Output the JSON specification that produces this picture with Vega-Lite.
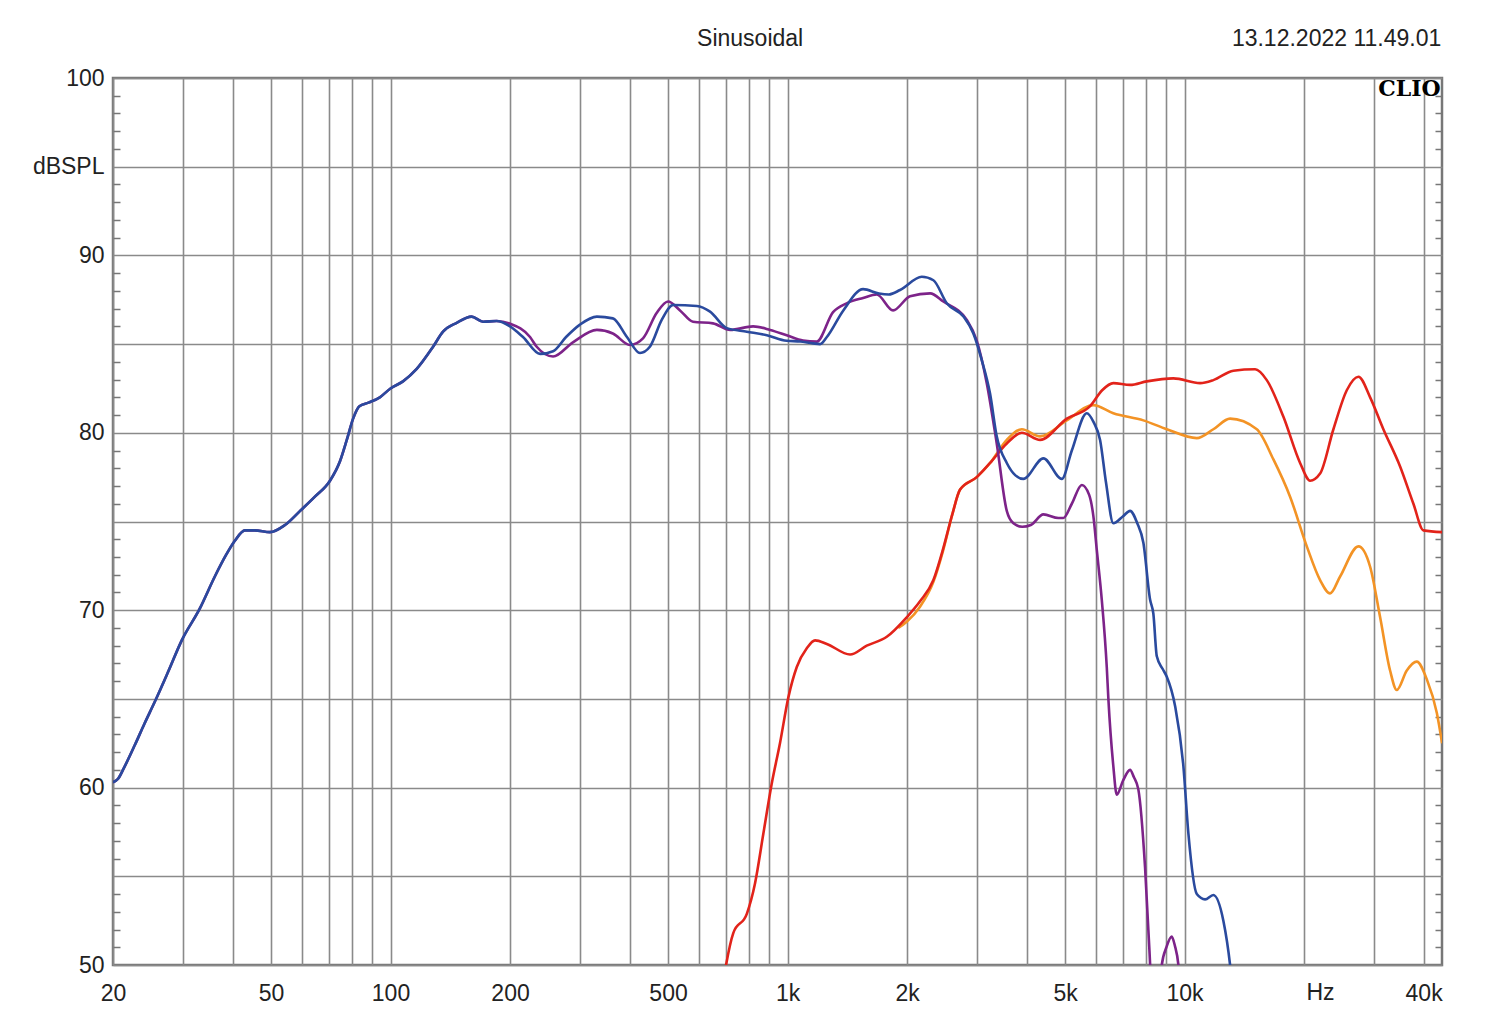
{
  "$schema": "https://vega.github.io/schema/vega-lite/v6.json",
  "autosize": {"type": "none"},
  "padding": {"left": 113, "top": 78, "right": 58, "bottom": 63},
  "width": 1329,
  "height": 887,
  "background": "white",
  "config": {
    "view": {"stroke": "#777777", "strokeWidth": 2.5},
    "font": "Liberation Sans"
  },
  "resolve": {"axis": {"y": "independent", "x": "independent"}},
  "layer": [
    {
      "mark": {"type": "rule", "strokeOpacity": 0},
      "encoding": {
        "x": {
          "datum": 1000,
          "type": "quantitative",
          "scale": {"type": "log", "domain": [20, 44500], "nice": false},
          "axis": {
            "orient": "bottom",
            "title": null,
            "values": [20, 30, 40, 50, 60, 70, 80, 90, 100, 200, 300, 400, 500, 600, 700, 800, 900, 1000, 2000, 3000, 4000, 5000, 6000, 7000, 8000, 9000, 10000, 20000, 30000, 40000],
            "grid": true,
            "gridColor": "#8a8a8a",
            "gridWidth": 1.6,
            "ticks": false,
            "tickSize": 0,
            "domain": false,
            "labelExpr": "datum.value==20?'20':datum.value==50?'50':datum.value==100?'100':datum.value==200?'200':datum.value==500?'500':datum.value==1000?'1k':datum.value==2000?'2k':datum.value==5000?'5k':datum.value==10000?'10k':datum.value==40000?'40k':''",
            "labelFont": "Liberation Sans",
            "labelFontSize": 23,
            "labelColor": "#222222",
            "labelPadding": 17,
            "labelFlush": false,
            "labelOverlap": false,
            "labelBound": false
          }
        }
      }
    },
    {
      "data": {
        "values": [
          {"series": "orange", "f": 1900, "db": 69.0},
          {"series": "orange", "f": 1996, "db": 69.35},
          {"series": "orange", "f": 2156, "db": 70.2},
          {"series": "orange", "f": 2330, "db": 71.6},
          {"series": "orange", "f": 2468, "db": 73.4},
          {"series": "orange", "f": 2600, "db": 75.4},
          {"series": "orange", "f": 2720, "db": 76.8},
          {"series": "orange", "f": 2996, "db": 77.5},
          {"series": "orange", "f": 3237, "db": 78.3},
          {"series": "orange", "f": 3566, "db": 79.6},
          {"series": "orange", "f": 3891, "db": 80.2},
          {"series": "orange", "f": 4326, "db": 79.8},
          {"series": "orange", "f": 5050, "db": 80.7},
          {"series": "orange", "f": 5892, "db": 81.56},
          {"series": "orange", "f": 6616, "db": 81.1},
          {"series": "orange", "f": 7874, "db": 80.7},
          {"series": "orange", "f": 9020, "db": 80.2},
          {"series": "orange", "f": 10734, "db": 79.7},
          {"series": "orange", "f": 11816, "db": 80.2},
          {"series": "orange", "f": 13020, "db": 80.8},
          {"series": "orange", "f": 15204, "db": 80.2},
          {"series": "orange", "f": 16740, "db": 78.5},
          {"series": "orange", "f": 18438, "db": 76.4},
          {"series": "orange", "f": 20316, "db": 73.6},
          {"series": "orange", "f": 21944, "db": 71.7},
          {"series": "orange", "f": 23256, "db": 70.95},
          {"series": "orange", "f": 24646, "db": 71.9},
          {"series": "orange", "f": 27410, "db": 73.6},
          {"series": "orange", "f": 29332, "db": 72.45},
          {"series": "orange", "f": 31084, "db": 69.6},
          {"series": "orange", "f": 32930, "db": 66.6},
          {"series": "orange", "f": 34238, "db": 65.5},
          {"series": "orange", "f": 36280, "db": 66.6},
          {"series": "orange", "f": 38440, "db": 67.1},
          {"series": "orange", "f": 40756, "db": 66.1},
          {"series": "orange", "f": 43190, "db": 64.2},
          {"series": "orange", "f": 44520, "db": 62.5},

          {"series": "red", "f": 660, "db": 46},
          {"series": "red", "f": 700, "db": 50},
          {"series": "red", "f": 730, "db": 51.8},
          {"series": "red", "f": 790, "db": 52.9},
          {"series": "red", "f": 828, "db": 54.6},
          {"series": "red", "f": 869, "db": 57.4},
          {"series": "red", "f": 912, "db": 60.2},
          {"series": "red", "f": 957, "db": 62.5},
          {"series": "red", "f": 1005, "db": 65.1},
          {"series": "red", "f": 1055, "db": 66.8},
          {"series": "red", "f": 1118, "db": 67.85},
          {"series": "red", "f": 1173, "db": 68.3},
          {"series": "red", "f": 1256, "db": 68.1},
          {"series": "red", "f": 1437, "db": 67.5},
          {"series": "red", "f": 1583, "db": 68.0},
          {"series": "red", "f": 1778, "db": 68.5},
          {"series": "red", "f": 1996, "db": 69.6},
          {"series": "red", "f": 2156, "db": 70.5},
          {"series": "red", "f": 2330, "db": 71.7},
          {"series": "red", "f": 2468, "db": 73.5},
          {"series": "red", "f": 2600, "db": 75.4},
          {"series": "red", "f": 2720, "db": 76.8},
          {"series": "red", "f": 2996, "db": 77.5},
          {"series": "red", "f": 3237, "db": 78.3},
          {"series": "red", "f": 3566, "db": 79.4},
          {"series": "red", "f": 3891, "db": 80.0},
          {"series": "red", "f": 4326, "db": 79.6},
          {"series": "red", "f": 5050, "db": 80.8},
          {"series": "red", "f": 5781, "db": 81.5},
          {"series": "red", "f": 6200, "db": 82.4},
          {"series": "red", "f": 6616, "db": 82.8},
          {"series": "red", "f": 7290, "db": 82.7},
          {"series": "red", "f": 8030, "db": 82.9},
          {"series": "red", "f": 9372, "db": 83.07},
          {"series": "red", "f": 10940, "db": 82.8},
          {"series": "red", "f": 11816, "db": 82.97},
          {"series": "red", "f": 13272, "db": 83.5},
          {"series": "red", "f": 15056, "db": 83.58},
          {"series": "red", "f": 16108, "db": 82.97},
          {"series": "red", "f": 17740, "db": 80.9},
          {"series": "red", "f": 19540, "db": 78.3},
          {"series": "red", "f": 20708, "db": 77.3},
          {"series": "red", "f": 21944, "db": 77.7},
          {"series": "red", "f": 23706, "db": 80.2},
          {"series": "red", "f": 25616, "db": 82.4},
          {"series": "red", "f": 27410, "db": 83.16},
          {"series": "red", "f": 29332, "db": 82.0},
          {"series": "red", "f": 31672, "db": 80.2},
          {"series": "red", "f": 34900, "db": 78.1},
          {"series": "red", "f": 37700, "db": 76.0},
          {"series": "red", "f": 39956, "db": 74.5},
          {"series": "red", "f": 44520, "db": 74.4},

          {"series": "purple", "f": 20, "db": 60.3},
          {"series": "purple", "f": 20.6, "db": 60.5},
          {"series": "purple", "f": 21.3, "db": 61.1},
          {"series": "purple", "f": 22.7, "db": 62.4},
          {"series": "purple", "f": 24, "db": 63.6},
          {"series": "purple", "f": 25.5, "db": 64.85},
          {"series": "purple", "f": 27.5, "db": 66.5},
          {"series": "purple", "f": 29.8, "db": 68.3},
          {"series": "purple", "f": 33.1, "db": 70.1},
          {"series": "purple", "f": 36.1, "db": 71.9},
          {"series": "purple", "f": 38.5, "db": 73.1},
          {"series": "purple", "f": 40.5, "db": 73.9},
          {"series": "purple", "f": 43, "db": 74.5},
          {"series": "purple", "f": 45.5, "db": 74.5},
          {"series": "purple", "f": 49.7, "db": 74.4},
          {"series": "purple", "f": 54.2, "db": 74.8},
          {"series": "purple", "f": 59.2, "db": 75.6},
          {"series": "purple", "f": 64.5, "db": 76.4},
          {"series": "purple", "f": 70.4, "db": 77.3},
          {"series": "purple", "f": 74.6, "db": 78.4},
          {"series": "purple", "f": 77.6, "db": 79.6},
          {"series": "purple", "f": 80.5, "db": 80.8},
          {"series": "purple", "f": 83.5, "db": 81.5},
          {"series": "purple", "f": 88, "db": 81.7},
          {"series": "purple", "f": 94, "db": 82.0},
          {"series": "purple", "f": 100, "db": 82.5},
          {"series": "purple", "f": 107.5, "db": 82.9},
          {"series": "purple", "f": 116.4, "db": 83.6},
          {"series": "purple", "f": 128, "db": 84.85},
          {"series": "purple", "f": 135.6, "db": 85.7},
          {"series": "purple", "f": 146.8, "db": 86.2},
          {"series": "purple", "f": 160, "db": 86.55},
          {"series": "purple", "f": 171, "db": 86.26},
          {"series": "purple", "f": 185, "db": 86.3},
          {"series": "purple", "f": 200, "db": 86.15},
          {"series": "purple", "f": 224.6, "db": 85.4},
          {"series": "purple", "f": 233.5, "db": 84.85},
          {"series": "purple", "f": 256.7, "db": 84.3},
          {"series": "purple", "f": 288, "db": 85.1},
          {"series": "purple", "f": 331, "db": 85.8},
          {"series": "purple", "f": 363, "db": 85.6},
          {"series": "purple", "f": 401, "db": 84.95},
          {"series": "purple", "f": 433, "db": 85.34},
          {"series": "purple", "f": 468, "db": 86.75},
          {"series": "purple", "f": 500, "db": 87.4},
          {"series": "purple", "f": 536, "db": 86.9},
          {"series": "purple", "f": 578, "db": 86.26},
          {"series": "purple", "f": 649, "db": 86.17},
          {"series": "purple", "f": 717, "db": 85.8},
          {"series": "purple", "f": 819, "db": 86.0},
          {"series": "purple", "f": 904, "db": 85.8},
          {"series": "purple", "f": 995, "db": 85.5},
          {"series": "purple", "f": 1094, "db": 85.2},
          {"series": "purple", "f": 1184, "db": 85.14},
          {"series": "purple", "f": 1302, "db": 86.8},
          {"series": "purple", "f": 1409, "db": 87.3},
          {"series": "purple", "f": 1550, "db": 87.6},
          {"series": "purple", "f": 1678, "db": 87.8},
          {"series": "purple", "f": 1844, "db": 86.9},
          {"series": "purple", "f": 2035, "db": 87.7},
          {"series": "purple", "f": 2286, "db": 87.86},
          {"series": "purple", "f": 2468, "db": 87.4},
          {"series": "purple", "f": 2829, "db": 86.36},
          {"series": "purple", "f": 2996, "db": 85.2},
          {"series": "purple", "f": 3175, "db": 82.8},
          {"series": "purple", "f": 3364, "db": 79.4},
          {"series": "purple", "f": 3566, "db": 75.6},
          {"series": "purple", "f": 3706, "db": 74.9},
          {"series": "purple", "f": 3900, "db": 74.7},
          {"series": "purple", "f": 4100, "db": 74.8},
          {"series": "purple", "f": 4410, "db": 75.4},
          {"series": "purple", "f": 4810, "db": 75.2},
          {"series": "purple", "f": 4952, "db": 75.2},
          {"series": "purple", "f": 5200, "db": 76.0},
          {"series": "purple", "f": 5510, "db": 77.06},
          {"series": "purple", "f": 5750, "db": 76.5},
          {"series": "purple", "f": 5892, "db": 75.3},
          {"series": "purple", "f": 6010, "db": 73.4},
          {"series": "purple", "f": 6186, "db": 70.6},
          {"series": "purple", "f": 6368, "db": 66.8},
          {"series": "purple", "f": 6428, "db": 65.0},
          {"series": "purple", "f": 6616, "db": 61.2},
          {"series": "purple", "f": 6748, "db": 59.6},
          {"series": "purple", "f": 7000, "db": 60.4},
          {"series": "purple", "f": 7290, "db": 61.0},
          {"series": "purple", "f": 7450, "db": 60.6},
          {"series": "purple", "f": 7648, "db": 59.9},
          {"series": "purple", "f": 7952, "db": 55.5},
          {"series": "purple", "f": 8186, "db": 50.1},
          {"series": "purple", "f": 8350, "db": 46},
          {"series": "purple", "f": 8600, "db": 46},
          {"series": "purple", "f": 8762, "db": 50.0},
          {"series": "purple", "f": 9000, "db": 51.0},
          {"series": "purple", "f": 9280, "db": 51.6},
          {"series": "purple", "f": 9450, "db": 51.1},
          {"series": "purple", "f": 9648, "db": 50.0},
          {"series": "purple", "f": 9900, "db": 46},

          {"series": "blue", "f": 20, "db": 60.3},
          {"series": "blue", "f": 20.6, "db": 60.5},
          {"series": "blue", "f": 21.3, "db": 61.1},
          {"series": "blue", "f": 22.7, "db": 62.4},
          {"series": "blue", "f": 24, "db": 63.6},
          {"series": "blue", "f": 25.5, "db": 64.85},
          {"series": "blue", "f": 27.5, "db": 66.5},
          {"series": "blue", "f": 29.8, "db": 68.3},
          {"series": "blue", "f": 33.1, "db": 70.1},
          {"series": "blue", "f": 36.1, "db": 71.9},
          {"series": "blue", "f": 38.5, "db": 73.1},
          {"series": "blue", "f": 40.5, "db": 73.9},
          {"series": "blue", "f": 43, "db": 74.5},
          {"series": "blue", "f": 45.5, "db": 74.5},
          {"series": "blue", "f": 49.7, "db": 74.4},
          {"series": "blue", "f": 54.2, "db": 74.8},
          {"series": "blue", "f": 59.2, "db": 75.6},
          {"series": "blue", "f": 64.5, "db": 76.4},
          {"series": "blue", "f": 70.4, "db": 77.3},
          {"series": "blue", "f": 74.6, "db": 78.4},
          {"series": "blue", "f": 77.6, "db": 79.6},
          {"series": "blue", "f": 80.5, "db": 80.8},
          {"series": "blue", "f": 83.5, "db": 81.5},
          {"series": "blue", "f": 88, "db": 81.7},
          {"series": "blue", "f": 94, "db": 82.0},
          {"series": "blue", "f": 100, "db": 82.5},
          {"series": "blue", "f": 107.5, "db": 82.9},
          {"series": "blue", "f": 116.4, "db": 83.6},
          {"series": "blue", "f": 128, "db": 84.85},
          {"series": "blue", "f": 135.6, "db": 85.7},
          {"series": "blue", "f": 146.8, "db": 86.2},
          {"series": "blue", "f": 160, "db": 86.55},
          {"series": "blue", "f": 171, "db": 86.26},
          {"series": "blue", "f": 185, "db": 86.3},
          {"series": "blue", "f": 200, "db": 86.0},
          {"series": "blue", "f": 215.6, "db": 85.4},
          {"series": "blue", "f": 238, "db": 84.45},
          {"series": "blue", "f": 256.7, "db": 84.6},
          {"series": "blue", "f": 276.8, "db": 85.4},
          {"series": "blue", "f": 300, "db": 86.1},
          {"series": "blue", "f": 331, "db": 86.55},
          {"series": "blue", "f": 363, "db": 86.45},
          {"series": "blue", "f": 394, "db": 85.4},
          {"series": "blue", "f": 425, "db": 84.5},
          {"series": "blue", "f": 450, "db": 84.85},
          {"series": "blue", "f": 482, "db": 86.36},
          {"series": "blue", "f": 515, "db": 87.2},
          {"series": "blue", "f": 591, "db": 87.15},
          {"series": "blue", "f": 638, "db": 86.83},
          {"series": "blue", "f": 703, "db": 85.9},
          {"series": "blue", "f": 790, "db": 85.7},
          {"series": "blue", "f": 887, "db": 85.5},
          {"series": "blue", "f": 995, "db": 85.19},
          {"series": "blue", "f": 1076, "db": 85.15},
          {"series": "blue", "f": 1160, "db": 85.04},
          {"series": "blue", "f": 1208, "db": 85.0},
          {"series": "blue", "f": 1256, "db": 85.4},
          {"series": "blue", "f": 1382, "db": 86.9},
          {"series": "blue", "f": 1550, "db": 88.1},
          {"series": "blue", "f": 1700, "db": 87.85},
          {"series": "blue", "f": 1800, "db": 87.8},
          {"series": "blue", "f": 1920, "db": 88.05},
          {"series": "blue", "f": 2178, "db": 88.8},
          {"series": "blue", "f": 2330, "db": 88.6},
          {"series": "blue", "f": 2518, "db": 87.3},
          {"series": "blue", "f": 2774, "db": 86.55},
          {"series": "blue", "f": 2938, "db": 85.6},
          {"series": "blue", "f": 3084, "db": 84.1},
          {"series": "blue", "f": 3237, "db": 82.2},
          {"series": "blue", "f": 3364, "db": 79.8},
          {"series": "blue", "f": 3566, "db": 78.3},
          {"series": "blue", "f": 3750, "db": 77.6},
          {"series": "blue", "f": 3926, "db": 77.4},
          {"series": "blue", "f": 4410, "db": 78.56},
          {"series": "blue", "f": 4906, "db": 77.4},
          {"series": "blue", "f": 5200, "db": 79.0},
          {"series": "blue", "f": 5672, "db": 81.1},
          {"series": "blue", "f": 5900, "db": 80.6},
          {"series": "blue", "f": 6126, "db": 79.6},
          {"series": "blue", "f": 6340, "db": 77.2},
          {"series": "blue", "f": 6616, "db": 74.9},
          {"series": "blue", "f": 7000, "db": 75.3},
          {"series": "blue", "f": 7290, "db": 75.6},
          {"series": "blue", "f": 7600, "db": 74.9},
          {"series": "blue", "f": 7874, "db": 73.8},
          {"series": "blue", "f": 8186, "db": 70.6},
          {"series": "blue", "f": 8344, "db": 69.8},
          {"series": "blue", "f": 8512, "db": 67.4},
          {"series": "blue", "f": 8800, "db": 66.7},
          {"series": "blue", "f": 9020, "db": 66.25},
          {"series": "blue", "f": 9464, "db": 64.6},
          {"series": "blue", "f": 9932, "db": 61.2},
          {"series": "blue", "f": 10224, "db": 57.4},
          {"series": "blue", "f": 10734, "db": 54.0},
          {"series": "blue", "f": 11262, "db": 53.7},
          {"series": "blue", "f": 11816, "db": 53.95},
          {"series": "blue", "f": 12522, "db": 52.5},
          {"series": "blue", "f": 13020, "db": 50.0},
          {"series": "blue", "f": 13400, "db": 47}
        ]
      },
      "mark": {"type": "line", "clip": true, "strokeWidth": 2.6, "interpolate": "monotone"},
      "encoding": {
        "x": {
          "field": "f",
          "type": "quantitative",
          "scale": {"type": "log", "domain": [20, 44500], "nice": false},
          "axis": null
        },
        "y": {
          "field": "db",
          "type": "quantitative",
          "scale": {"domain": [50, 100], "nice": false},
          "axis": {
            "orient": "left",
            "title": null,
            "values": [50, 55, 60, 65, 70, 75, 80, 85, 90, 95, 100],
            "grid": true,
            "gridColor": "#8a8a8a",
            "gridWidth": 1.6,
            "ticks": false,
            "tickSize": 0,
            "domain": false,
            "labelExpr": "datum.value==95?'dBSPL':(datum.value%10==0?''+datum.value:'')",
            "labelFont": "Liberation Sans",
            "labelFontSize": 23,
            "labelColor": "#222222",
            "labelPadding": 9,
            "labelFlush": false,
            "labelOverlap": false,
            "labelBound": false
          }
        },
        "color": {
          "field": "series",
          "type": "nominal",
          "sort": ["orange", "red", "purple", "blue"],
          "scale": {"domain": ["orange", "red", "purple", "blue"], "range": ["#f39325", "#e2231a", "#7d2389", "#2a4a9e"]},
          "legend": null
        }
      }
    },
    {
      "mark": {"type": "rule", "strokeOpacity": 0},
      "encoding": {
        "y": {
          "datum": 75,
          "type": "quantitative",
          "scale": {"domain": [50, 100], "nice": false},
          "axis": {
            "orient": "left",
            "title": null,
            "values": [51, 52, 53, 54, 56, 57, 58, 59, 61, 62, 63, 64, 66, 67, 68, 69, 71, 72, 73, 74, 76, 77, 78, 79, 81, 82, 83, 84, 86, 87, 88, 89, 91, 92, 93, 94, 96, 97, 98, 99],
            "labels": false,
            "grid": false,
            "domain": false,
            "ticks": true,
            "tickSize": -7,
            "tickColor": "#777777",
            "tickWidth": 1.5
          }
        }
      }
    },
    {
      "mark": {"type": "rule", "strokeOpacity": 0},
      "encoding": {
        "y": {
          "datum": 75,
          "type": "quantitative",
          "scale": {"domain": [50, 100], "nice": false},
          "axis": {
            "orient": "right",
            "title": null,
            "values": [51, 52, 53, 54, 56, 57, 58, 59, 61, 62, 63, 64, 66, 67, 68, 69, 71, 72, 73, 74, 76, 77, 78, 79, 81, 82, 83, 84, 86, 87, 88, 89, 91, 92, 93, 94, 96, 97, 98, 99],
            "labels": false,
            "grid": false,
            "domain": false,
            "ticks": true,
            "tickSize": -7,
            "tickColor": "#777777",
            "tickWidth": 1.5
          }
        }
      }
    },
    {
      "data": {
        "values": [
          {"label": "Sinusoidal", "f": 805, "db": 102.2},
          {"label": "Hz", "f": 22000, "db": 48.4}
        ]
      },
      "mark": {"type": "text", "font": "Liberation Sans", "fontSize": 23, "align": "center", "baseline": "middle", "color": "#222222", "clip": false},
      "encoding": {
        "x": {"field": "f", "type": "quantitative", "axis": null},
        "y": {"field": "db", "type": "quantitative", "axis": null},
        "text": {"field": "label"}
      }
    },
    {
      "data": {
        "values": [
          {"label": "13.12.2022 11.49.01", "f": 44300, "db": 102.2}
        ]
      },
      "mark": {"type": "text", "font": "Liberation Sans", "fontSize": 23, "align": "right", "baseline": "middle", "color": "#222222", "clip": false},
      "encoding": {
        "x": {"field": "f", "type": "quantitative", "axis": null},
        "y": {"field": "db", "type": "quantitative", "axis": null},
        "text": {"field": "label"}
      }
    },
    {
      "data": {
        "values": [
          {"label": "CLIO", "f": 44150, "db": 99.38}
        ]
      },
      "mark": {"type": "text", "font": "DejaVu Serif", "fontWeight": "bold", "fontSize": 22, "align": "right", "baseline": "middle", "color": "#000000", "clip": false},
      "encoding": {
        "x": {"field": "f", "type": "quantitative", "axis": null},
        "y": {"field": "db", "type": "quantitative", "axis": null},
        "text": {"field": "label"}
      }
    }
  ]
}
